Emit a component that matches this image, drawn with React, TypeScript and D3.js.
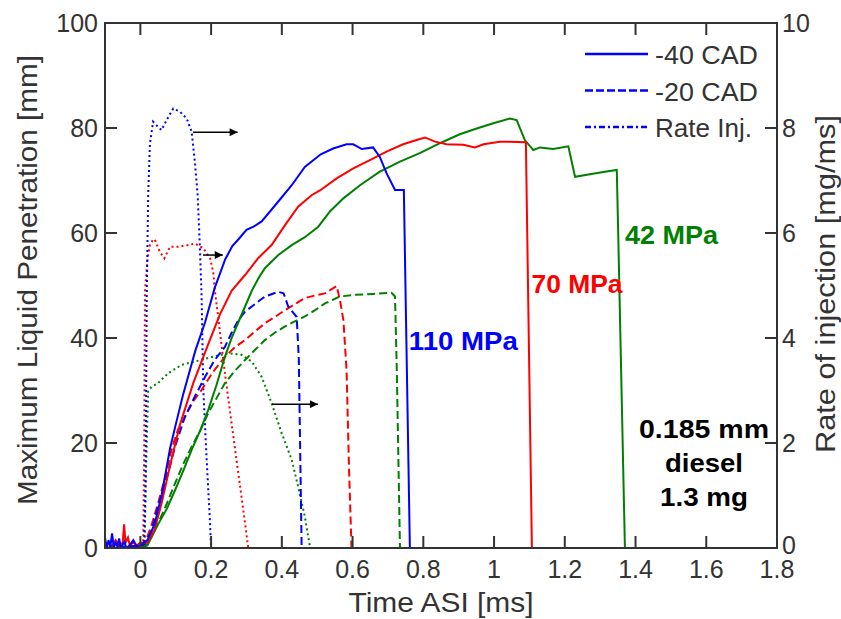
import React from "react";
import * as d3 from "d3";

const W = 841;
const H = 619;
const PLOT = { left: 105, right: 777, top: 23, bottom: 548 };

const xTicks = [0, 0.2, 0.4, 0.6, 0.8, 1, 1.2, 1.4, 1.6, 1.8];
const xTickLabels = ["0", "0.2", "0.4", "0.6", "0.8", "1", "1.2", "1.4", "1.6", "1.8"];
const yLeftTicks = [0, 20, 40, 60, 80, 100];
const yRightTicks = [0, 2, 4, 6, 8, 10];

type P = [number, number];

// Penetration, -40 CAD (solid)
const pen110m40: P[] = [
  [-0.1, 2], [-0.095, 0], [-0.09, 1.5], [-0.085, 0.2], [-0.08, 2.8], [-0.075, 0], [-0.07, 1], [-0.065, 0.3],
  [-0.06, 1.8], [-0.055, 0], [-0.05, 0.6], [-0.045, 1.2], [-0.04, 0], [-0.03, 0.5], [-0.02, 1.5], [-0.01, 0.3],
  [0, 0.5], [0.02, 1.5], [0.04, 4.5], [0.06, 10], [0.084, 19], [0.1, 23.5], [0.12, 29], [0.155, 37.5], [0.183, 43],
  [0.21, 49.5], [0.24, 55], [0.26, 57.5], [0.28, 59], [0.3, 60.6], [0.32, 61.2], [0.343, 62.2], [0.39, 66],
  [0.428, 69.1], [0.465, 72.6], [0.51, 75], [0.545, 76.1], [0.583, 76.9], [0.602, 76.9], [0.626, 76],
  [0.658, 76.3], [0.677, 74.5], [0.696, 71.4], [0.72, 68.2], [0.745, 68.2], [0.75, 48], [0.762, 0], [1.7, 0],
];
const pen70m40: P[] = [
  [-0.1, 0.5], [-0.09, 1], [-0.08, 0.3], [-0.07, 1.5], [-0.06, 0.5], [-0.05, 1], [-0.046, 4.5], [-0.042, 1],
  [-0.035, 2], [-0.03, 0.5], [-0.02, 1], [-0.01, 0.5], [0, 1], [0.02, 1], [0.04, 3.5], [0.06, 8.5], [0.085, 16],
  [0.112, 23.5], [0.15, 31.5], [0.19, 38.5], [0.225, 44.5], [0.258, 49], [0.296, 52], [0.333, 55.2], [0.371, 57.7],
  [0.409, 61.5], [0.446, 65], [0.484, 67.2], [0.51, 68.2], [0.555, 70.4], [0.602, 72.3], [0.649, 73.9],
  [0.696, 75.5], [0.743, 76.9], [0.781, 77.7], [0.805, 78.2], [0.833, 77.4], [0.866, 76.9], [0.913, 76.8],
  [0.946, 76.3], [0.97, 76.9], [1.017, 77.4], [1.09, 77.3], [1.107, 0], [1.7, 0],
];
const pen42m40: P[] = [
  [-0.1, 0], [0, 0], [0.02, 0.5], [0.05, 4.5], [0.075, 7.5], [0.098, 11], [0.12, 14.5], [0.145, 18.7], [0.17, 22.5],
  [0.192, 26.3], [0.215, 31], [0.239, 36.4], [0.258, 40], [0.277, 43], [0.296, 46], [0.315, 49], [0.335, 51.5],
  [0.352, 53.3], [0.39, 55.8], [0.428, 57.7], [0.465, 59.2], [0.503, 61.2], [0.536, 64.1], [0.574, 66.6],
  [0.621, 69.1], [0.677, 71.7], [0.734, 73.6], [0.79, 75.2], [0.847, 77.1], [0.903, 78.8], [0.951, 79.9],
  [0.998, 80.9], [1.045, 81.8], [1.064, 81.5], [1.087, 77.7], [1.111, 75.8], [1.13, 76.3], [1.167, 76],
  [1.21, 76.5], [1.229, 70.7], [1.271, 71.2], [1.309, 71.6], [1.347, 72], [1.351, 60], [1.37, 0], [1.7, 0],
];

// Penetration, -20 CAD (dashed)
const pen110m20: P[] = [
  [-0.1, 0], [0.01, 0.5], [0.03, 3], [0.05, 7.9], [0.075, 13.5], [0.098, 19.3], [0.126, 25], [0.155, 29],
  [0.183, 32.6], [0.21, 35.8], [0.239, 38.3], [0.258, 41], [0.277, 43.4], [0.296, 45], [0.315, 46], [0.352, 47.9],
  [0.39, 48.8], [0.405, 48.5], [0.418, 46], [0.442, 44], [0.448, 36], [0.456, 0], [1.7, 0],
];
const pen70m20: P[] = [
  [-0.1, 0], [0.01, 0.5], [0.03, 4], [0.05, 8.5], [0.07, 13.5], [0.088, 18.7], [0.106, 22.5], [0.126, 25],
  [0.15, 28], [0.173, 30.1], [0.205, 33.5], [0.239, 36.4], [0.268, 38.3], [0.296, 39.6], [0.325, 41.3],
  [0.352, 42.8], [0.38, 44], [0.409, 45.3], [0.438, 46.5], [0.465, 47.6], [0.494, 48.1], [0.522, 48.5],
  [0.555, 49.9], [0.565, 47], [0.574, 43.4], [0.583, 33.9], [0.59, 15], [0.597, 0], [1.7, 0],
];
const pen42m20: P[] = [
  [-0.1, 0], [0.01, 0], [0.03, 2], [0.05, 4.7], [0.075, 8.5], [0.098, 12.3], [0.12, 15.8], [0.145, 19.3],
  [0.17, 22.5], [0.192, 25.7], [0.215, 28.5], [0.239, 31.4], [0.268, 33.8], [0.296, 35.8], [0.325, 37.8],
  [0.352, 39.6], [0.38, 41], [0.409, 42.2], [0.438, 43.2], [0.465, 44.1], [0.494, 45.3], [0.522, 46.6],
  [0.564, 47.9], [0.602, 48.2], [0.658, 48.4], [0.71, 48.6], [0.72, 47.9], [0.725, 33.9], [0.734, 0], [1.7, 0],
];

// Rate of injection (dotted), mg/ms
const rate110: P[] = [
  [-0.1, 0], [0.01, 0], [0.014, 1], [0.016, 2.5], [0.018, 4.8], [0.022, 6.7], [0.027, 7.7], [0.036, 8.12],
  [0.05, 8.02], [0.06, 7.96], [0.074, 8.15], [0.093, 8.37], [0.112, 8.31], [0.131, 8.18], [0.145, 7.93],
  [0.154, 7.36], [0.162, 6.72], [0.168, 5.77], [0.173, 4.82], [0.178, 3.0], [0.187, 1.74], [0.197, 0.47],
  [0.2, 0], [1.7, 0],
];
const rate70: P[] = [
  [-0.1, 0], [0.008, 0], [0.011, 2], [0.013, 4.88], [0.02, 5.5], [0.027, 5.77], [0.036, 5.88], [0.041, 5.87],
  [0.055, 5.64], [0.068, 5.52], [0.084, 5.74], [0.107, 5.74], [0.136, 5.77], [0.154, 5.8], [0.178, 5.71],
  [0.197, 5.52], [0.206, 5.26], [0.211, 4.88], [0.22, 4.4], [0.239, 3.33], [0.258, 2.37], [0.277, 1.42],
  [0.296, 0.47], [0.305, 0], [1.7, 0],
];
const rate42: P[] = [
  [-0.1, 0], [0.012, 0], [0.016, 1.5], [0.022, 3.0], [0.032, 3.07], [0.05, 3.14], [0.079, 3.33], [0.117, 3.49],
  [0.154, 3.55], [0.202, 3.64], [0.249, 3.71], [0.286, 3.68], [0.315, 3.55], [0.343, 3.26], [0.371, 2.76],
  [0.4, 2.18], [0.428, 1.68], [0.446, 1.17], [0.465, 0.6], [0.48, 0], [1.7, 0],
];

const legendLabels = ["-40 CAD", "-20 CAD", "Rate Inj."];
const legendWidths = [103, 103, 97];
const pressureLabels = ["110 MPa", "70 MPa", "42 MPa"];
const noteLines = ["0.185 mm", "diesel", "1.3 mg"];
const noteWidths = [130, 78, 88];

const BLUE = "#0000ff";
const RED = "#ff0000";
const GREEN = "#008000";
const AXIS = "#333333";
const FONT = "'Liberation Sans', Arial, sans-serif";

export default function App() {
  const x = d3.scaleLinear().domain([-0.1, 1.8]).range([PLOT.left, PLOT.right]);
  const yL = d3.scaleLinear().domain([0, 100]).range([PLOT.bottom, PLOT.top]);
  const yR = d3.scaleLinear().domain([0, 10]).range([PLOT.bottom, PLOT.top]);

  const lineL = d3.line<P>().x((d) => x(d[0])).y((d) => yL(d[1]));
  const lineR = d3.line<P>().x((d) => x(d[0])).y((d) => yR(d[1]));

  const dotted = "2,3";
  const dashed = "8,4";

  const rates: [P[], string][] = [[rate42, GREEN], [rate70, RED], [rate110, BLUE]];
  const dashes: [P[], string][] = [[pen42m20, GREEN], [pen70m20, RED], [pen110m20, BLUE]];
  const solids: [P[], string][] = [[pen42m40, GREEN], [pen70m40, RED], [pen110m40, BLUE]];

  const arrows: { t0: number; t1: number; r: number }[] = [
    { t0: 0.149, t1: 0.275, r: 7.92 },
    { t0: 0.177, t1: 0.233, r: 5.58 },
    { t0: 0.372, t1: 0.502, r: 2.74 },
  ];

  const pressurePos: { t: number; v: number; w: number; c: string }[] = [
    { t: 0.759, v: 37.7, w: 109, c: BLUE },
    { t: 1.106, v: 48.6, w: 91, c: RED },
    { t: 1.37, v: 57.9, w: 93, c: GREEN },
  ];

  const tickLen = 12;

  return (
    <svg
      width={W}
      height={H}
      style={{ position: "absolute", left: 0, top: 0, background: "#fff" }}
      fontFamily={FONT}
    >
      <defs>
        <clipPath id="plotclip">
          <rect x={PLOT.left} y={PLOT.top - 2} width={PLOT.right - PLOT.left} height={PLOT.bottom - PLOT.top + 3} />
        </clipPath>
        <marker id="arrowhead" viewBox="0 0 10 10" refX="10" refY="5" markerWidth="12" markerHeight="8" markerUnits="userSpaceOnUse" orient="auto">
          <path d="M0,0 L10,5 L0,10 Z" fill="#000" />
        </marker>
      </defs>

      <g clipPath="url(#plotclip)">
        {rates.map(([d, c], i) => (
          <path key={"r" + i} d={lineR(d) || ""} fill="none" stroke={c} strokeWidth={2} strokeDasharray={dotted} />
        ))}
        {dashes.map(([d, c], i) => (
          <path key={"d" + i} d={lineL(d) || ""} fill="none" stroke={c} strokeWidth={2} strokeDasharray={dashed} />
        ))}
        {solids.map(([d, c], i) => (
          <path key={"s" + i} d={lineL(d) || ""} fill="none" stroke={c} strokeWidth={2} />
        ))}
      </g>

      {arrows.map((a, i) => (
        <line
          key={"a" + i}
          x1={x(a.t0)}
          x2={x(a.t1)}
          y1={yR(a.r)}
          y2={yR(a.r)}
          stroke="#000"
          strokeWidth={1.5}
          markerEnd="url(#arrowhead)"
        />
      ))}

      {/* Frame */}
      <rect
        x={PLOT.left}
        y={PLOT.top}
        width={PLOT.right - PLOT.left}
        height={PLOT.bottom - PLOT.top}
        fill="none"
        stroke={AXIS}
        strokeWidth={2}
      />

      {/* X ticks */}
      {xTicks.map((t, i) => (
        <g key={"xt" + i}>
          <line x1={x(t)} x2={x(t)} y1={PLOT.bottom} y2={PLOT.bottom - tickLen} stroke={AXIS} strokeWidth={2} />
          <line x1={x(t)} x2={x(t)} y1={PLOT.top} y2={PLOT.top + tickLen} stroke={AXIS} strokeWidth={2} />
          <text x={x(t)} y={PLOT.bottom + 30} textAnchor="middle" fontSize={25} fill={AXIS}>
            {xTickLabels[i]}
          </text>
        </g>
      ))}

      {/* Left ticks */}
      {yLeftTicks.map((v, i) => (
        <g key={"yl" + i}>
          <line x1={PLOT.left} x2={PLOT.left + tickLen} y1={yL(v)} y2={yL(v)} stroke={AXIS} strokeWidth={2} />
          <text x={PLOT.left - 7} y={yL(v) + 9} textAnchor="end" fontSize={25} fill={AXIS}>
            {String(v)}
          </text>
        </g>
      ))}

      {/* Right ticks */}
      {yRightTicks.map((v, i) => (
        <g key={"yr" + i}>
          <line x1={PLOT.right} x2={PLOT.right - tickLen} y1={yR(v)} y2={yR(v)} stroke={AXIS} strokeWidth={2} />
          <text x={PLOT.right + 5} y={yR(v) + (v === 0 ? 6 : 9)} textAnchor="start" fontSize={25} fill={AXIS}>
            {String(v)}
          </text>
        </g>
      ))}

      {/* Axis labels */}
      <text
        x={(PLOT.left + PLOT.right) / 2}
        y={612}
        textAnchor="middle"
        fontSize={28}
        fill={AXIS}
        textLength={185}
        lengthAdjust="spacingAndGlyphs"
      >
        Time ASI [ms]
      </text>
      <text
        transform={`translate(37, 280) rotate(-90)`}
        textAnchor="middle"
        fontSize={28}
        fill={AXIS}
        textLength={450}
        lengthAdjust="spacingAndGlyphs"
      >
        Maximum Liquid Penetration [mm]
      </text>
      <text
        transform={`translate(835, 284) rotate(-90)`}
        textAnchor="middle"
        fontSize={27}
        fill={AXIS}
        textLength={338}
        lengthAdjust="spacingAndGlyphs"
      >
        Rate of injection [mg/ms]
      </text>

      {/* Legend */}
      {legendLabels.map((lab, i) => {
        const ly = 54 + i * 36.5;
        const dash = i === 0 ? undefined : i === 1 ? "8,3" : "6,3,2,3";
        return (
          <g key={"lg" + i}>
            <line x1={585} x2={648} y1={ly} y2={ly} stroke={BLUE} strokeWidth={2.5} strokeDasharray={dash} />
            <text
              x={655}
              y={ly + 10}
              fontSize={26}
              fill={AXIS}
              textLength={legendWidths[i]}
              lengthAdjust="spacingAndGlyphs"
            >
              {lab}
            </text>
          </g>
        );
      })}

      {/* Pressure labels */}
      {pressurePos.map((p, i) => (
        <text
          key={"p" + i}
          x={x(p.t)}
          y={yL(p.v)}
          fontSize={26}
          fontWeight="bold"
          fill={p.c}
          textLength={p.w}
          lengthAdjust="spacingAndGlyphs"
        >
          {pressureLabels[i]}
        </text>
      ))}

      {/* Note */}
      {noteLines.map((s, i) => (
        <text
          key={"n" + i}
          x={704 - noteWidths[i] / 2}
          y={438 + i * 34}
          fontSize={26}
          fontWeight="bold"
          fill="#000"
          textLength={noteWidths[i]}
          lengthAdjust="spacingAndGlyphs"
        >
          {s}
        </text>
      ))}
    </svg>
  );
}
